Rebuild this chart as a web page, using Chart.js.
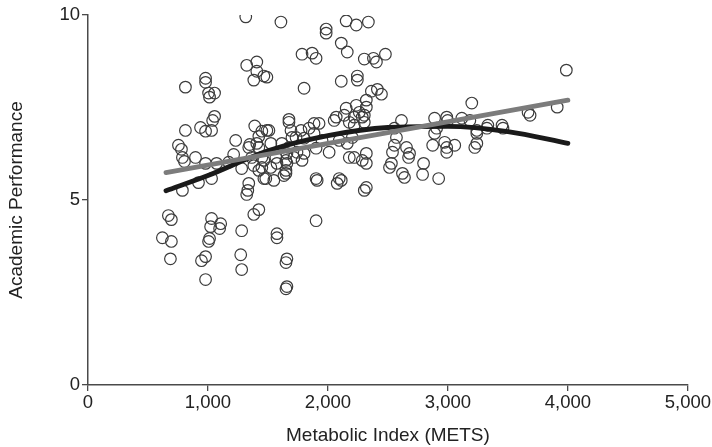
<!DOCTYPE html>
<html>
<head>
<meta charset="utf-8">
<script src="https://cdn.jsdelivr.net/npm/chart.js@4.4.1/dist/chart.umd.min.js"></script>
<style>
  html, body { margin: 0; padding: 0; background: #fff; }
  #wrap { width: 712px; height: 447px; }
</style>
</head>
<body>
<div id="wrap"><canvas id="myChart" width="712" height="447"></canvas></div>
<script>
// scatter values
const metsIndex = [
  1315, 1608, 1985, 1985, 2152, 2236, 2337, 1784, 1868, 1901, 2111, 2161, 2303, 2379, 2404, 2479,
  1323, 1407, 1407, 1382, 1466, 812, 980, 980, 1005, 1055, 1013, 1491, 1801, 2111, 2245, 2245,
  2362, 2412, 2446, 3987, 1055, 2320, 2320, 2261, 2152, 2136, 2219, 2286, 2069, 3199, 1675, 1926,
  1843, 1884, 1776, 1692, 812, 938, 980, 1030, 1039, 1390, 1449, 1491, 1424, 1231, 754, 779,
  787, 896, 804, 980, 1072, 1173, 1214, 1281, 1340, 1424, 1348, 1524, 1616, 1675, 1734, 1365,
  1449, 1382, 1449, 1566, 1650, 1717, 1784, 1650, 1508, 1466, 1524, 1575, 1658, 1633, 1549, 1482,
  1742, 1801, 1658, 1901, 2010, 2094, 2161, 2203, 2178, 2219, 2320, 2320, 2286, 1700, 1801, 1951,
  1675, 1884, 2052, 2178, 2219, 2303, 2236, 2303, 2613, 2554, 2571, 2554, 2538, 2529, 2513, 2655,
  2680, 2672, 2621, 2638, 2303, 2320, 2111, 2094, 1901, 1910, 2077, 2797, 2789, 2923, 2889, 2906,
  2889, 2990, 2998, 2973, 2990, 3057, 2990, 3116, 3183, 3241, 3241, 3241, 3224, 3333, 3325, 3451,
  3459, 3668, 3685, 3911, 787, 921, 1030, 1340, 1332, 1323, 1466, 1650, 670, 695, 620, 695,
  687, 1030, 1022, 1106, 1097, 1013, 1005, 980, 946, 980, 1281, 1273, 1281, 1382, 1424, 1575,
  1575, 1658, 1650, 1658, 1650, 1901, 1407, 1424, 2873
];
const academicPerf = [
  9.95, 9.81, 9.62, 9.51, 9.84, 9.73, 9.81, 8.94, 8.97, 8.83, 9.24, 9.00, 8.81, 8.83, 8.73, 8.94,
  8.64, 8.73, 8.48, 8.24, 8.35, 8.05, 8.29, 8.18, 7.89, 7.89, 7.78, 8.32, 8.02, 8.21, 8.35, 8.24,
  7.94, 7.99, 7.86, 8.51, 7.26, 7.70, 7.51, 7.37, 7.48, 7.29, 7.24, 7.24, 7.24, 7.62, 7.18, 7.07,
  6.94, 6.80, 6.88, 6.88, 6.88, 6.96, 6.86, 6.88, 7.15, 7.00, 6.86, 6.88, 6.72, 6.61, 6.48, 6.37,
  6.15, 6.15, 6.04, 5.99, 5.99, 6.02, 6.23, 5.85, 6.42, 6.42, 6.50, 6.53, 6.53, 6.42, 6.69, 6.15,
  6.15, 5.93, 5.88, 6.15, 6.07, 6.15, 6.07, 5.80, 6.88, 6.07, 5.88, 5.99, 5.99, 5.66, 5.53, 5.58,
  6.29, 6.26, 6.26, 6.40, 6.29, 6.61, 6.53, 6.69, 6.15, 6.15, 6.26, 5.99, 6.07, 6.69, 6.67, 6.61,
  7.10, 7.07, 7.15, 7.10, 7.02, 7.10, 7.56, 7.29, 7.15, 6.94, 6.69, 6.48, 6.29, 5.99, 5.88, 6.42,
  6.26, 6.15, 5.72, 5.61, 5.26, 5.34, 5.53, 5.58, 5.58, 5.53, 5.45, 5.99, 5.69, 5.58, 7.21, 6.94,
  6.80, 7.24, 7.15, 6.56, 6.42, 6.48, 6.29, 7.21, 7.15, 6.88, 6.80, 6.53, 6.42, 7.02, 6.94, 7.02,
  6.94, 7.37, 7.29, 7.51, 5.26, 5.47, 5.58, 5.45, 5.26, 5.15, 5.58, 5.72, 4.58, 4.47, 3.98, 3.88,
  3.41, 4.50, 4.28, 4.36, 4.23, 3.96, 3.88, 3.47, 3.36, 2.85, 4.17, 3.52, 3.12, 4.61, 4.74, 4.09,
  3.98, 3.41, 3.31, 2.66, 2.60, 4.44, 6.53, 5.80, 6.48
];

// fitted lines, read at a few x positions
const linearX = [650, 4000];
const linearY = [5.74, 7.70];
const quadX = [650, 1000, 1500, 2000, 2500, 3000, 3500, 4000];
const quadY = [5.25, 5.66, 6.33, 6.74, 6.96, 6.99, 6.85, 6.53];

const xTicks = [0, 1000, 2000, 3000, 4000, 5000];
const yTicks = [0, 5, 10];

const toPoints = (xs, ys) => xs.map((x, i) => ({ x: x, y: ys[i] }));

const axisColor = '#4a4a4a';
const textColor = '#222222';
const fontFamily = '"Liberation Sans", Arial, Helvetica, sans-serif';

const ctx = document.getElementById('myChart');

new Chart(ctx, {
    type: 'scatter',
    data: {
        datasets: [
            {
                type: 'line',
                label: 'Linear',
                data: toPoints(linearX, linearY),
                borderColor: '#7c7c7c',
                borderWidth: 4.8,
                borderCapStyle: 'round',
                pointRadius: 0,
                fill: false,
                order: 0
            },
            {
                type: 'line',
                label: 'Quadratic',
                data: toPoints(quadX, quadY),
                borderColor: '#1a1a1a',
                borderWidth: 4.8,
                borderCapStyle: 'round',
                cubicInterpolationMode: 'monotone',
                pointRadius: 0,
                fill: false,
                order: 1
            },
            {
                label: 'Students',
                data: toPoints(metsIndex, academicPerf),
                pointRadius: 5.8,
                pointBorderWidth: 1.2,
                borderColor: '#3c3c3c',
                backgroundColor: 'rgba(255,255,255,0)',
                order: 2
            }
        ]
    },
    options: {
        responsive: false,
        animation: false,
        devicePixelRatio: 1,
        layout: { padding: { top: 15, right: 24, bottom: 0, left: 0 } },
        plugins: {
            legend: { display: false },
            tooltip: { enabled: false }
        },
        scales: {
            x: {
                type: 'linear',
                min: 0,
                max: 5000,
                afterFit: s => { s.height = 62; },
                afterBuildTicks: s => { s.ticks = xTicks.map(v => ({ value: v })); },
                grid: { display: true, drawOnChartArea: false, drawTicks: true, tickLength: 6, color: axisColor, lineWidth: 1.3 },
                border: { display: true, color: axisColor, width: 1.5 },
                ticks: {
                    color: textColor,
                    padding: 1,
                    maxRotation: 0,
                    font: { family: fontFamily, size: 18.5 },
                    callback: v => v.toLocaleString('en-US')
                },
                title: {
                    display: true,
                    text: 'Metabolic Index (METS)',
                    color: textColor,
                    font: { family: fontFamily, size: 19 },
                    padding: { top: 0, bottom: 0 }
                }
            },
            y: {
                type: 'linear',
                min: 0,
                max: 10,
                afterFit: s => { s.width = 88; },
                afterBuildTicks: s => { s.ticks = yTicks.map(v => ({ value: v })); },
                grid: { display: true, drawOnChartArea: false, drawTicks: true, tickLength: 6, color: axisColor, lineWidth: 1.3 },
                border: { display: true, color: axisColor, width: 1.5 },
                ticks: {
                    color: textColor,
                    padding: 2,
                    font: { family: fontFamily, size: 18.5 }
                },
                title: {
                    display: true,
                    text: 'Academic Performance',
                    color: textColor,
                    font: { family: fontFamily, size: 19 },
                    padding: { top: 5, bottom: 0 }
                }
            }
        }
    }
});
</script>
</body>
</html>
